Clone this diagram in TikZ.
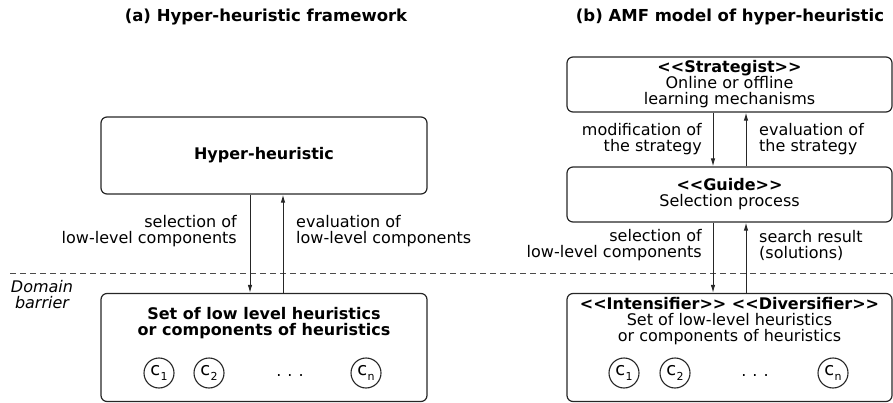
\documentclass[tikz,border=0pt]{standalone}
\usepackage{fontspec}
\setmainfont{DejaVu Sans}
\usetikzlibrary{arrows.meta}
\newcommand\lt{<\kern0pt<}
\newcommand\gt{>\kern0pt>}
\newcommand\csub[1]{\fontsize{18}{18}\selectfont c\kern0.5pt\raisebox{-0.25em}{\fontsize{11}{11}\selectfont #1}}
\begin{document}
\begin{tikzpicture}[x=1pt,y=-1pt,
  every node/.style={font=\fontsize{16}{16}\selectfont, inner sep=0pt},
  box/.style={draw=black!85, line width=1.2pt, rounded corners=6pt, align=center},
  comp/.style={draw=black!85, line width=1.1pt, circle, minimum size=30pt},
  arr/.style={draw=black!85, line width=1pt, -{Latex[length=8pt,width=4.5pt]}},
  lbl/.style={align=left, anchor=west},
  lbr/.style={align=right, anchor=east},
  title/.style={font=\fontsize{16.5}{16.5}\selectfont\bfseries}]
\useasboundingbox (0,0) rectangle (893,403);
% titles
\node[title] (ta) at (266,17) {(a) Hyper-heuristic framework};
\node[title] (tb) at (730,17) {(b) AMF model of hyper-heuristic};
% domain barrier
\coordinate (dl) at (10,273);
\coordinate (dr) at (893,273);
\draw[black!70, line width=0.9pt, dash pattern=on 6pt off 4pt] (dl) -- (dr);
\node[align=center, font=\fontsize{16}{16}\selectfont\itshape] (db) at (42,295) {Domain\\barrier};
% (a)
\node[box, minimum width=326pt, minimum height=77pt, font=\fontsize{16}{16}\selectfont\bfseries] (hh) at (264,155.5) {Hyper-heuristic};
\node[box, minimum width=326pt, minimum height=108pt] (setA) at (264,347.5) {};
\node[align=center, font=\fontsize{16}{16}\selectfont\bfseries] (setAt) at (264,323) {Set of low level heuristics\\or components of heuristics};
\node[comp] (a1) at (159,373) {\csub{1}};
\node[comp] (a2) at (209,373) {\csub{2}};
\node (adots) at (290,376) {.\hspace{6pt}.\hspace{6pt}.};
\node[comp] (an) at (366,373) {\csub{n}};
\draw[arr] ([xshift=-14pt]hh.south) -- ([xshift=-14pt]setA.north);
\draw[arr] ([xshift=19pt]setA.north) -- ([xshift=19pt]hh.south);
\node[lbr] (la1) at (237,231) {selection of\\low-level components};
\node[lbl] (la2) at (296,231) {evaluation of\\low-level components};
% (b)
\node[box, minimum width=325pt, minimum height=55pt] (strat) at (729.5,84.5) {\textbf{\lt Strategist\gt}\\Online or offline\\learning mechanisms};
\node[box, minimum width=325pt, minimum height=55pt] (guide) at (729.5,194.5) {\textbf{\lt Guide\gt}\\Selection process};
\node[box, minimum width=325pt, minimum height=108pt] (setB) at (729.5,347.5) {};
\node[align=center] (setBt) at (729.5,321.5) {\textbf{\lt Intensifier\gt{} \lt Diversifier\gt}\\Set of low-level heuristics\\or components of heuristics};
\node[comp] (b1) at (624,373) {\csub{1}};
\node[comp] (b2) at (675,373) {\csub{2}};
\node (bdots) at (755,376) {.\hspace{6pt}.\hspace{6pt}.};
\node[comp] (bn) at (833,373) {\csub{n}};
\draw[arr] ([xshift=-16.5pt]strat.south) -- ([xshift=-16.5pt]guide.north);
\draw[arr] ([xshift=16.5pt]guide.north) -- ([xshift=16.5pt]strat.south);
\draw[arr] ([xshift=-16.5pt]guide.south) -- ([xshift=-16.5pt]setB.north);
\draw[arr] ([xshift=16.5pt]setB.north) -- ([xshift=16.5pt]guide.south);
\node[lbr] (lb1) at (702,139) {modification of\\the strategy};
\node[lbl] (lb2) at (759,139) {evaluation of\\the strategy};
\node[lbr] (lb3) at (702,245) {selection of\\low-level components};
\node[lbl] (lb4) at (759,245) {search result\\(solutions)};
\end{tikzpicture}
\end{document}
